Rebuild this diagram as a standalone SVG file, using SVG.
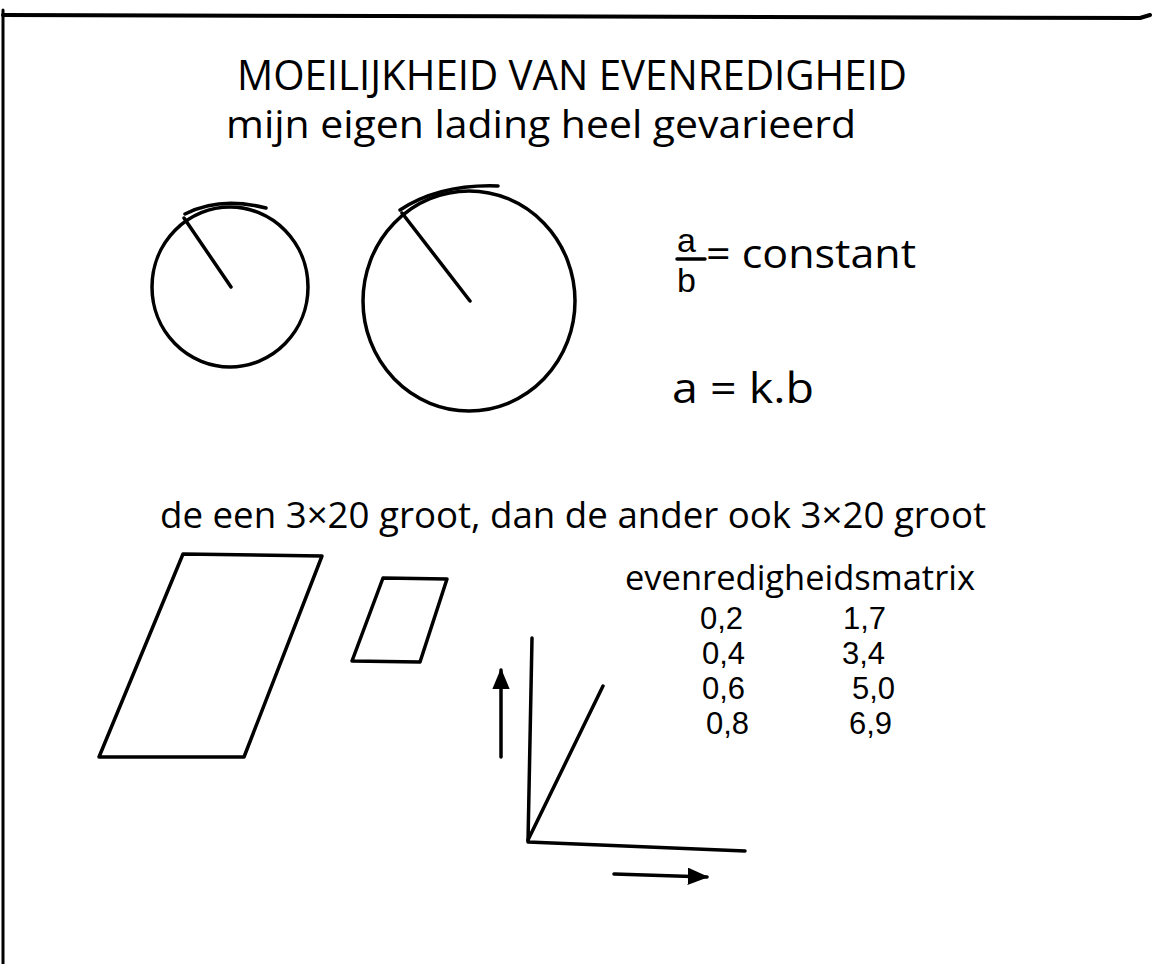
<svg xmlns="http://www.w3.org/2000/svg" width="1153" height="964" viewBox="0 0 1153 964">
<style>
.ink{fill:none;stroke:#000;stroke-width:3.5;stroke-linecap:round;stroke-linejoin:round}
.t{font-family:"Open Sans","Liberation Sans",sans-serif;fill:#000}
.n{font-family:"Liberation Sans",sans-serif;fill:#000;font-size:31px}
</style>
<defs>
<marker id="ah" viewBox="0 0 12 10" refX="11" refY="5" markerWidth="6" markerHeight="5" orient="auto" markerUnits="strokeWidth">
<path d="M0,0 L12,5 L0,10 z" fill="#000"/>
</marker>
</defs>
<rect width="1153" height="964" fill="#fff"/>
<g id="frame" class="ink">
<path d="M3,10 L3,964" stroke-width="3"/>
<path d="M3,15 L1140,18 L1150,15" stroke-width="4"/>
</g>
<g id="title">
<text class="t" x="237" y="90" font-size="42" textLength="670" lengthAdjust="spacingAndGlyphs">MOEILIJKHEID VAN EVENREDIGHEID</text>
<text class="t" x="226" y="138" font-size="38" textLength="630" lengthAdjust="spacingAndGlyphs">mijn eigen lading heel gevarieerd</text>
</g>
<g id="circle-small" class="ink">
<ellipse cx="230" cy="287" rx="78" ry="80"/>
<path d="M184,218 L231,287"/>
<path d="M185,214 Q220,196 266,208"/>
</g>
<g id="circle-large" class="ink">
<ellipse cx="469" cy="301" rx="106" ry="110"/>
<path d="M402,213 L470,301"/>
<path d="M400,210 Q440,184 498,186"/>
</g>
<g id="formula1">
<text x="677" y="252" font-family="Liberation Sans,sans-serif" font-size="34">a</text>
<path d="M677,259 L705,259" class="ink" stroke-width="3"/>
<text x="677" y="292" font-family="Liberation Sans,sans-serif" font-size="34">b</text>
<text class="t" x="706" y="268" font-size="40" textLength="210" lengthAdjust="spacingAndGlyphs">= constant</text>
</g>
<g id="formula2">
<text class="t" x="672" y="403" font-size="42" textLength="142" lengthAdjust="spacingAndGlyphs">a = k.b</text>
</g>
<g id="sentence">
<text class="t" x="160" y="528" font-size="36" textLength="826" lengthAdjust="spacingAndGlyphs">de een 3×20 groot, dan de ander ook 3×20 groot</text>
</g>
<g id="matrix">
<text class="t" x="625" y="590" font-size="34" textLength="350" lengthAdjust="spacingAndGlyphs">evenredigheidsmatrix</text>
<text class="n" x="700" y="629">0,2</text><text class="n" x="843" y="629">1,7</text>
<text class="n" x="702" y="664">0,4</text><text class="n" x="842" y="664">3,4</text>
<text class="n" x="702" y="699">0,6</text><text class="n" x="852" y="699">5,0</text>
<text class="n" x="706" y="734">0,8</text><text class="n" x="849" y="734">6,9</text>
</g>
<g id="parallelogram-large" class="ink">
<path d="M183,554 L322,556 L244,757 L99,757 Z"/>
</g>
<g id="parallelogram-small" class="ink">
<path d="M383,578 L447,579 L420,662 L352,661 Z"/>
</g>
<g id="graph" class="ink">
<path d="M532,638 L528,842 L745,851"/>
<path d="M528,840 L603,686"/>
</g>
<g id="connectors" class="ink">
<path d="M501,757 L501,670" marker-end="url(#ah)"/>
<path d="M614,874 L707,877" marker-end="url(#ah)"/>
</g>
</svg>
